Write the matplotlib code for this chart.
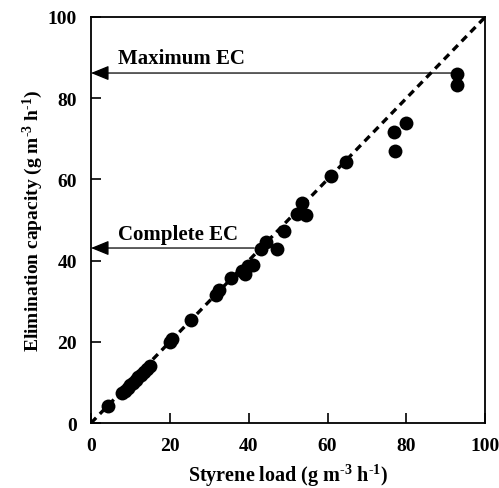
import matplotlib
matplotlib.use("Agg")
import matplotlib.pyplot as plt

plt.rcParams['font.family'] = ['Liberation Serif', 'DejaVu Serif']
plt.rcParams['font.weight'] = 'bold'
plt.rcParams['mathtext.fontset'] = 'custom'
plt.rcParams['mathtext.rm'] = 'Liberation Serif:bold'
plt.rcParams['mathtext.it'] = 'Liberation Serif:bold'
plt.rcParams['mathtext.bf'] = 'Liberation Serif:bold'

styrene_load = [4.3, 7.8, 8.5, 9.3, 10.0, 10.6, 11.3, 12.0, 12.7, 13.4, 14.2, 15.0,
                20.0, 20.6, 25.3, 31.7, 32.5, 35.4, 38.2, 39.0, 39.8, 41.0,
                43.0, 44.4, 47.2, 49.0, 52.2, 53.4, 54.5, 60.9, 64.6,
                76.9, 77.2, 80.0, 92.9, 92.9]
elimination_capacity = [4.2, 7.3, 8.0, 8.6, 9.3, 9.9, 10.6, 11.3, 11.9, 12.6, 13.3, 14.1,
                        20.0, 20.7, 25.4, 31.6, 32.8, 35.8, 37.5, 36.6, 38.7, 38.9,
                        42.9, 44.6, 42.9, 47.2, 51.4, 54.2, 51.2, 60.8, 64.4,
                        71.7, 67.0, 73.9, 86.0, 83.3]

max_ec = 86.2
max_ec_load = 92.0
complete_ec = 43.1
complete_ec_load = 41.4

fig = plt.figure(figsize=(4.99, 4.89), dpi=100)
ax = fig.add_axes([0.1824, 0.1329, 0.79, 0.8303])

ax.plot([0, 100], [0, 100], linestyle=(0, (2.2, 1.6)), color='black', lw=2.4, zorder=2)
ax.scatter(styrene_load, elimination_capacity, s=100, color='black', zorder=3, linewidths=0)

arrow_kw = dict(arrowstyle='-|>,head_length=1.1,head_width=0.45', color='black', lw=0.9,
                shrinkA=0, shrinkB=0)
ax.annotate('', xy=(0, max_ec), xytext=(max_ec_load, max_ec), arrowprops=arrow_kw, zorder=4)
ax.annotate('', xy=(0, complete_ec), xytext=(complete_ec_load, complete_ec), arrowprops=arrow_kw, zorder=4)
ax.text(6.9, 88.6, 'Maximum EC', fontsize=15, fontweight='bold', ha='left', va='baseline')
ax.text(6.9, 45.4, 'Complete EC', fontsize=15, fontweight='bold', ha='left', va='baseline')

ax.set_xlim(0, 100)
ax.set_ylim(0, 100)
ax.set_xticks([0, 20, 40, 60, 80, 100])
ax.set_yticks([0, 20, 40, 60, 80, 100])
ax.tick_params(direction='in', length=7, width=1.2, labelsize=14, top=False, right=False)
ax.tick_params(axis='y', pad=10)
ax.tick_params(axis='x', pad=10)
for lab in ax.get_xticklabels() + ax.get_yticklabels():
    lab.set_fontweight('bold')
for sp in ax.spines.values():
    sp.set_linewidth(1.3)

ax.set_xlabel(r'Styrene load (g m$^{\text{-3}}$ h$^{\text{-1}}$)', fontsize=14.5, fontweight='bold', labelpad=6)
ax.set_ylabel(r'Elimination capacity (g m$^{\text{-3}}$ h$^{\text{-1}}$)', fontsize=14, fontweight='bold', labelpad=2)

fig.savefig('out.png', dpi=100)
